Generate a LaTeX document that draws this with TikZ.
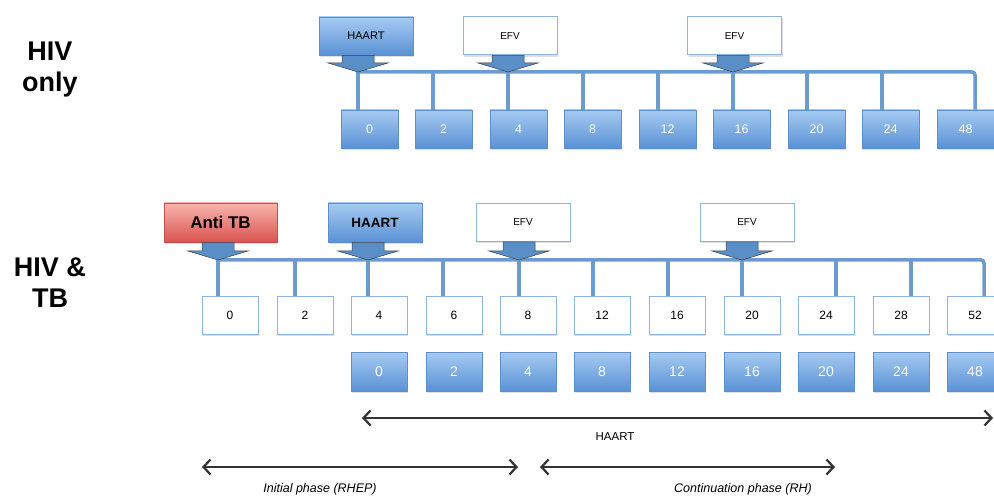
\documentclass[tikz,border=0pt]{standalone}
\usepackage{fontspec}
\setmainfont{Liberation Sans}
\usetikzlibrary{calc,shadows,arrows.meta}
\definecolor{bluetop}{HTML}{A6CAF2}
\definecolor{bluebot}{HTML}{5A92D5}
\definecolor{blueedge}{HTML}{5F8FCB}
\definecolor{busblue}{HTML}{6C9BD0}
\definecolor{arrblue}{HTML}{5A8EC6}
\definecolor{redtop}{HTML}{F8B4AE}
\definecolor{redbot}{HTML}{D9534F}
\definecolor{rededge}{HTML}{C0504D}
\definecolor{wedge}{HTML}{8DB4E2}
\tikzset{
  shade/.style={drop shadow={shadow xshift=1pt,shadow yshift=-2pt,opacity=0.25}},
  bluebox/.style={draw=blueedge,line width=0.6pt,top color=bluetop,bottom color=bluebot,
    minimum width=57,minimum height=38,inner sep=0,text=white,shade},
  whitebox/.style={draw=wedge,line width=1pt,fill=white,minimum width=56,minimum height=37,
    inner sep=0,font=\fontsize{12}{14}\selectfont,shade},
  efvbox/.style={draw=wedge,line width=1pt,fill=white,minimum width=94,minimum height=38,
    inner sep=0,font=\fontsize{10}{12}\selectfont,shade},
  redbox/.style={draw=rededge,line width=0.6pt,top color=redtop,bottom color=redbot,
    minimum width=113,minimum height=39,inner sep=0,font=\bfseries\fontsize{17}{20}\selectfont,shade},
  bus/.style={draw=busblue,line width=3.5pt},
  blockarr/.style={fill=arrblue,draw=black!75,line width=0.5pt,line join=miter},
  span/.style={draw=black!80,line width=1.6pt,
    {Straight Barb[length=7pt,width=15pt,line width=2.2pt]}-{Straight Barb[length=7pt,width=15pt,line width=2.2pt]}},
  side/.style={font=\bfseries\fontsize{27}{31}\selectfont,align=center},
  phase/.style={font=\itshape\fontsize{12.5}{14}\selectfont}
}
\newcommand{\blockarrow}[2]{%
  \filldraw[blockarr] (#2) -- ($(#2)+(-30,-9)$) -- ($(#2)+(-16,-9)$)
    -- ($(#1.south -| #2)+(-16,0)$) -- ($(#1.south -| #2)+(16,0)$)
    -- ($(#2)+(16,-9)$) -- ($(#2)+(30,-9)$) -- cycle;}
\begin{document}
\begin{tikzpicture}[x=1pt,y=-1pt]
\useasboundingbox (0,0) rectangle (994,497);

% side labels
\node[side] (lab1) at (50,70) {HIV\\only};
\node[side] (lab2) at (50,283) {HIV \&\\TB};

% ---------- HIV only ----------
\node[bluebox,minimum width=94,font=\fontsize{11}{13}\selectfont,text=black] (h1) at (366,36) {HAART};
\node[efvbox] (e1) at (510,36) {EFV};
\node[efvbox] (e2) at (734.5,36) {EFV};

\foreach \i/\lab/\x in {0/0/369.5,1/2/443.5,2/4/518.5,3/8/592.5,4/12/667.5,5/16/741.5,6/20/816.5,7/24/890.5,8/48/965.5}
  \node[bluebox,font=\fontsize{12.5}{14}\selectfont] (t\i) at (\x,129) {\lab};

\foreach \i/\x in {0/358,1/433,2/508,3/583,4/658,5/733,6/807,7/882,8/975}
  \coordinate (td\i) at (\x,72);

\draw[bus,rounded corners=3pt] (td0) -- (td8) -- (td8 |- t8.north);
\foreach \i in {0,...,7}
  \draw[bus] (td\i) -- (td\i |- t\i.north);

\blockarrow{h1}{td0}
\blockarrow{e1}{td2}
\blockarrow{e2}{td5}

% ---------- HIV & TB ----------
\node[redbox] (atb) at (220.5,222.5) {Anti TB};
\node[bluebox,minimum width=94,minimum height=39,text=black,font=\bfseries\fontsize{13.5}{16}\selectfont] (h2) at (375,222.5) {HAART};
\node[efvbox] (e3) at (523,222.5) {EFV};
\node[efvbox] (e4) at (747,222.5) {EFV};

\foreach \i/\lab/\x in {0/0/230,1/2/305,2/4/379,3/6/454,4/8/528,5/12/602,6/16/677,7/20/752,8/24/826,9/28/901,10/52/975}
  \node[whitebox] (w\i) at (\x,315.5) {\lab};

\foreach \i/\lab/\x in {0/0/379,1/2/454,2/4/528,3/8/602,4/12/677,5/16/752,6/20/826,7/24/901,8/48/975}
  \node[bluebox,minimum width=56,minimum height=39,font=\fontsize{14}{16}\selectfont] (b\i) at (\x,371.5) {\lab};

\foreach \i/\x in {0/218,1/295,2/368,3/443,4/519,5/593,6/668,7/742,8/836,9/911,10/984}
  \coordinate (bd\i) at (\x,260);

\draw[bus,rounded corners=3pt] (bd0) -- (bd10) -- (bd10 |- w10.north);
\foreach \i in {0,...,9}
  \draw[bus] (bd\i) -- (bd\i |- w\i.north);

\blockarrow{atb}{bd0}
\blockarrow{h2}{bd2}
\blockarrow{e3}{bd4}
\blockarrow{e4}{bd7}

% ---------- spans ----------
\coordinate (ha1) at (362,418);
\coordinate (ha2) at (993,418);
\draw[span] (ha1) -- (ha2);
\node[font=\fontsize{11.5}{13}\selectfont] (hal) at (615,437) {HAART};

\coordinate (ip1) at (202,467);
\coordinate (ip2) at (518,467);
\draw[span] (ip1) -- (ip2);
\node[phase] (ipl) at (320,489) {Initial phase (RHEP)};

\coordinate (cp1) at (540,467);
\coordinate (cp2) at (835,467);
\draw[span] (cp1) -- (cp2);
\node[phase] (cpl) at (743,489) {Continuation phase (RH)};
\end{tikzpicture}
\end{document}
